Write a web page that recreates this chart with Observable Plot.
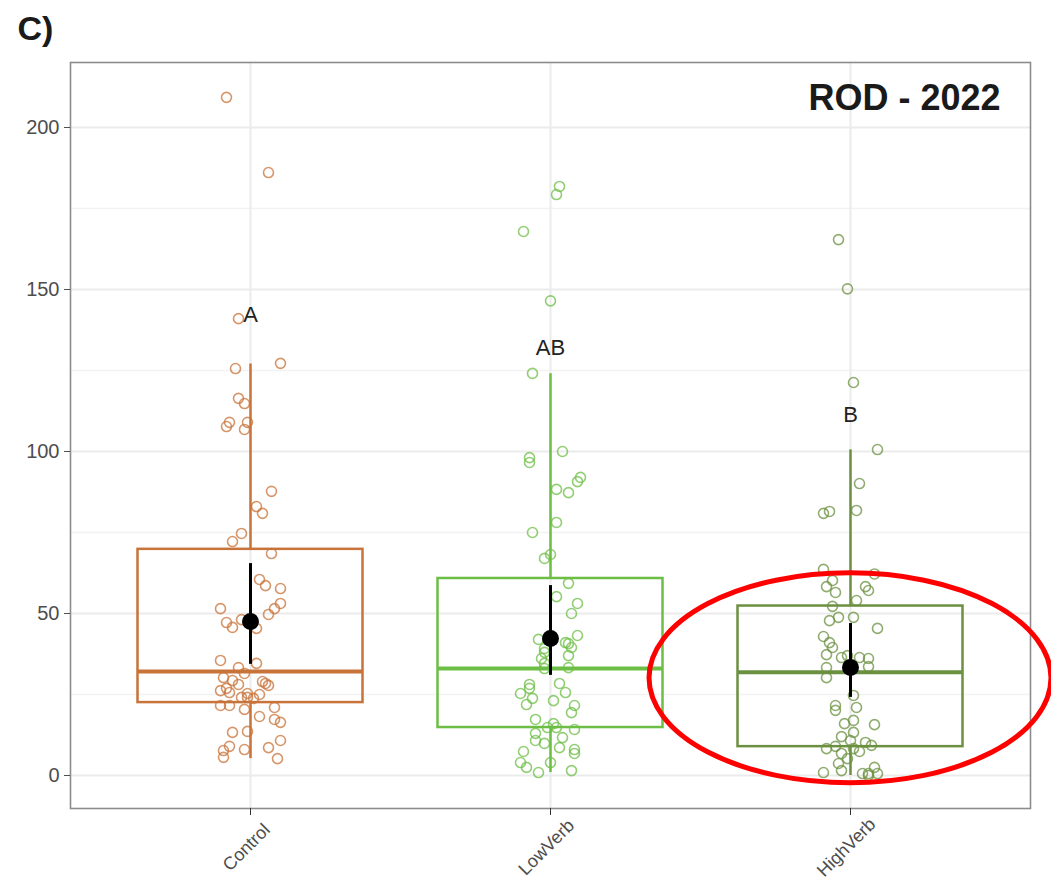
<!DOCTYPE html>
<html><head><meta charset="utf-8">
<script src="https://cdn.jsdelivr.net/npm/d3@7"></script>
<script src="https://cdn.jsdelivr.net/npm/@observablehq/plot@0.6"></script>
<style>body{margin:0;background:#fff}</style>
</head><body><div id="chart"></div>
<script>
// ---- data ----
const categories = ["Control", "LowVerb", "HighVerb"];
const colors = ["#c8733a", "#6cbe45", "#6b9040"];
const q1 = [22.5, 14.8, 8.9];
const median = [32.1, 33.0, 31.9];
const q3 = [69.8, 60.8, 52.3];
const whiskerLo = [5.2, 0.9, 0];
const whiskerHi = [127, 124, 100.5];
const mean = [47.5, 42.3, 33.3];
const ciLo = [34.3, 30.9, 24.1];
const ciHi = [65.4, 58.6, 46.9];
const letters = ["A", "AB", "B"];
const letterY = [142, 132, 111.4];
const majorY = [0, 50, 100, 150, 200];
const minorY = [25, 75, 125, 175];
const title = "ROD - 2022";
const panelLabel = "C)";

// [value, horizontal jitter in category units]
const controlPts = [[209.3,-0.08],[186.1,0.06],[141.0,-0.04],[125.6,-0.05],[127.2,0.10],[116.4,-0.04],[114.8,-0.02],[109.0,-0.07],[107.7,-0.08],[109.0,-0.01],[106.8,-0.02],[87.7,0.07],[83.0,0.02],[80.9,0.04],[74.7,-0.03],[72.2,-0.06],[68.5,0.07],[60.5,0.03],[58.6,0.05],[57.7,0.10],[53.1,0.10],[51.5,0.08],[49.7,0.06],[51.5,-0.10],[47.2,-0.08],[45.7,-0.06],[48.1,-0.03],[45.4,0.02],[35.5,-0.10],[34.6,0.02],[33.3,-0.04],[31.5,-0.02],[30.2,-0.09],[29.3,-0.06],[29.0,0.04],[28.4,0.05],[27.8,0.06],[28.1,-0.04],[26.9,-0.08],[26.2,-0.10],[25.6,-0.07],[25.3,-0.01],[25.0,0.03],[24.1,-0.03],[23.8,0.01],[24.1,-0.01],[21.6,-0.10],[21.6,-0.07],[20.4,-0.02],[21.0,0.08],[18.2,0.03],[17.3,0.08],[16.4,0.10],[13.3,-0.06],[13.6,-0.01],[10.8,0.10],[9.0,-0.07],[8.0,-0.02],[8.6,0.06],[7.7,-0.09],[5.6,-0.09],[5.2,0.09]];
const lowVerbPts = [[181.8,0.03],[179.3,0.02],[167.9,-0.09],[146.5,0.0],[124.1,-0.06],[100.0,0.04],[98.1,-0.07],[96.6,-0.07],[92.0,0.10],[90.7,0.09],[88.3,0.02],[87.3,0.06],[78.1,0.02],[75.0,-0.06],[68.2,0.0],[67.0,-0.02],[59.3,0.06],[55.2,0.02],[53.1,0.09],[50.0,0.07],[43.2,0.09],[42.0,-0.04],[41.0,0.05],[40.7,0.06],[39.5,0.07],[39.2,-0.02],[38.0,-0.02],[37.0,0.06],[36.1,-0.03],[34.6,-0.02],[33.3,0.06],[33.0,-0.02],[28.1,-0.07],[28.4,0.03],[26.9,-0.07],[25.6,0.05],[25.3,-0.10],[23.8,-0.06],[23.1,0.01],[21.6,0.08],[21.9,-0.08],[19.4,0.07],[17.3,-0.05],[16.0,0.01],[14.8,-0.01],[14.8,0.02],[14.2,0.08],[13.0,-0.05],[11.7,0.04],[10.8,-0.05],[9.9,-0.02],[8.6,0.03],[8.0,0.08],[7.4,-0.09],[6.8,0.08],[4.0,0.0],[4.0,-0.10],[2.5,-0.08],[0.9,-0.04],[1.5,0.07]];
const highVerbPts = [[165.4,-0.04],[150.2,-0.01],[121.3,0.01],[100.6,0.09],[90.1,0.03],[80.9,-0.09],[81.5,-0.07],[81.8,0.02],[63.6,-0.09],[62.2,0.08],[60.2,-0.06],[58.3,-0.08],[58.3,0.05],[57.1,0.06],[56.5,-0.05],[54.0,0.02],[52.2,-0.06],[48.8,-0.04],[48.8,0.01],[47.8,-0.07],[45.4,0.09],[42.9,-0.09],[41.0,-0.07],[39.5,-0.06],[37.3,-0.08],[36.4,-0.03],[37.0,-0.01],[36.4,0.03],[36.1,0.06],[33.6,0.06],[33.3,-0.08],[30.2,-0.08],[24.7,0.01],[21.6,-0.05],[20.1,-0.05],[21.0,0.02],[17.0,0.01],[16.0,-0.02],[15.7,0.08],[13.3,0.01],[12.0,-0.03],[10.8,0.0],[10.2,0.05],[9.3,0.07],[8.3,-0.08],[9.0,-0.05],[8.3,0.01],[7.4,0.03],[6.8,-0.03],[5.2,-0.01],[3.7,-0.04],[2.5,0.08],[0.9,-0.09],[1.5,-0.03],[0.6,0.04],[0.6,0.06],[0.6,0.09],[0.0,0.06]];

// ---- build tables ----
const groups = categories.map((c, i) => ({
  cat: c, idx: i + 1, q1: q1[i], median: median[i], q3: q3[i],
  lo: whiskerLo[i], hi: whiskerHi[i], mean: mean[i], ciLo: ciLo[i], ciHi: ciHi[i],
  letter: letters[i], letterY: letterY[i]
}));
const points = [controlPts, lowVerbPts, highVerbPts].flatMap((arr, i) =>
  arr.map(([v, j]) => ({ cat: categories[i], x: i + 1 + j, y: v })));

const halfBox = 0.375;
const chart = Plot.plot({
  width: 1051, height: 888,
  marginLeft: 70, marginRight: 21, marginTop: 62, marginBottom: 80,
  style: { fontFamily: "'Liberation Sans', Arial, sans-serif", background: "#fff" },
  x: { domain: [0.4, 3.6] },
  y: { domain: [-10.19, 220.06] },
  color: { domain: categories, range: colors },
  marks: [
    Plot.ruleY(minorY, { stroke: "#f2f2f2", strokeWidth: 1.3 }),
    Plot.ruleY(majorY, { stroke: "#ebebeb", strokeWidth: 2 }),
    Plot.ruleX([1, 2, 3], { stroke: "#ebebeb", strokeWidth: 2 }),
    Plot.frame({ stroke: "#8c8c8c", strokeWidth: 1.6 }),
    Plot.axisY({ ticks: majorY, tickSize: 6, tickPadding: 5, fontSize: 20, color: "#4d4d4d", label: null }),
    Plot.axisX({ ticks: [1, 2, 3], tickSize: 7, tickFormat: () => "", label: null, color: "#333" }),
    Plot.text(groups, { x: "idx", frameAnchor: "bottom", dy: 43, rotate: -45, text: "cat", fontSize: 18, fill: "#4d4d4d" }),
    Plot.ruleX(groups, { x: "idx", y1: "q3", y2: "hi", stroke: "cat", strokeWidth: 2.5 }),
    Plot.ruleX(groups, { x: "idx", y1: "lo", y2: "q1", stroke: "cat", strokeWidth: 2.5 }),
    Plot.rect(groups, { x1: d => d.idx - halfBox, x2: d => d.idx + halfBox, y1: "q1", y2: "q3", stroke: "cat", strokeWidth: 2.5, fill: "none" }),
    Plot.ruleY(groups, { y: "median", x1: d => d.idx - halfBox, x2: d => d.idx + halfBox, stroke: "cat", strokeWidth: 4 }),
    Plot.dot(points, { x: "x", y: "y", stroke: "cat", r: 5, strokeWidth: 1.6, strokeOpacity: 0.75 }),
    Plot.ruleX(groups, { x: "idx", y1: "ciLo", y2: "ciHi", stroke: "black", strokeWidth: 3 }),
    Plot.dot(groups, { x: "idx", y: "mean", r: 8.5, fill: "black" }),
    Plot.text(groups, { x: "idx", y: "letterY", text: "letter", fontSize: 22, fill: "#222" }),
    Plot.text([title], { frameAnchor: "top-right", dx: -30, dy: 22, textAnchor: "end", fontSize: 36, fontWeight: "bold", fill: "#1a1a1a" }),
    Plot.text([panelLabel], { frameAnchor: "top-left", dx: -53, dy: -47, textAnchor: "start", fontSize: 34, fontWeight: "bold", fill: "#1a1a1a" })
  ]
});
document.getElementById("chart").appendChild(chart);

// red highlight ellipse around the HighVerb box, placed through the plot's scales
const sx = chart.scale("x"), sy = chart.scale("y");
const hx = 3, hy = 30, hrx = 0.67, hry = 32.4;
d3.select(chart).append("ellipse")
  .attr("cx", sx.apply(hx)).attr("cy", sy.apply(hy))
  .attr("rx", sx.apply(hx + hrx) - sx.apply(hx))
  .attr("ry", sy.apply(hy - hry) - sy.apply(hy))
  .attr("fill", "none").attr("stroke", "#ff0000").attr("stroke-width", 5);
</script></body></html>
